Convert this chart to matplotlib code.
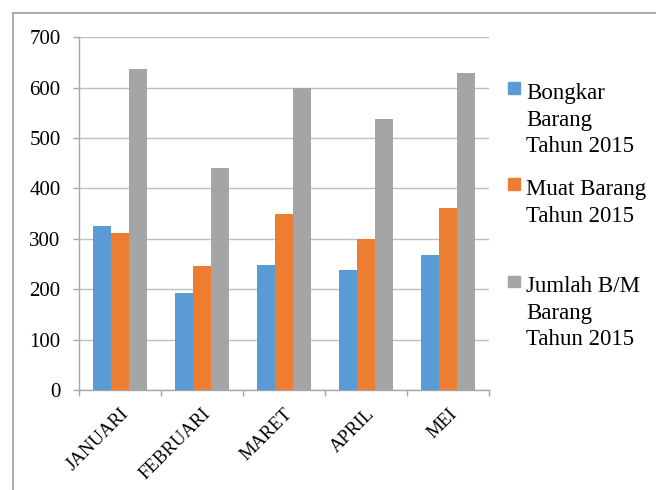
import matplotlib

matplotlib.use("Agg")
import matplotlib.pyplot as plt
import numpy as np
from matplotlib.lines import Line2D

plt.rcParams.update({"font.family": ["Liberation Serif", "DejaVu Serif"]})

months = ["JANUARI", "FEBRUARI", "MARET", "APRIL", "MEI"]
bongkar = [326, 192, 249, 239, 267]
muat = [311, 247, 349, 300, 362]
jumlah = [637, 440, 600, 538, 630]

series_labels = [["Bongkar", "Barang", "Tahun 2015"],
                 ["Muat Barang", "Tahun 2015"],
                 ["Jumlah B/M", "Barang", "Tahun 2015"]]
colors = ["#5B9BD5", "#ED7D31", "#A5A5A5"]
y_ticks = [0, 100, 200, 300, 400, 500, 600, 700]

W, H = 656, 490
fig = plt.figure(figsize=(W / 100, H / 100), dpi=100)
ax = fig.add_axes([78.7 / W, 1 - 390 / H, (489.3 - 78.7) / W, (390 - 37.3) / H])

x = np.arange(len(months))
bw = 0.22
for j, (vals, col) in enumerate(zip([bongkar, muat, jumlah], colors)):
    ax.bar(x + (j - 1) * bw, vals, width=bw, color=col, zorder=3)

ax.set_xlim(-0.5, len(months) - 0.5)
ax.set_ylim(0, 700)
ax.set_yticks(y_ticks)
ax.set_yticklabels([str(v) for v in y_ticks], fontsize=15)
ax.yaxis.grid(True, color="#BFBFBF", lw=1.0, zorder=0)

ax.set_xticks(x)
ax.set_xticklabels(months, fontsize=13.5, rotation=45, ha="right", rotation_mode="anchor")
ax.tick_params(axis="x", length=0, pad=11)
ax.set_xticks(np.arange(len(months) + 1) - 0.5, minor=True)
ax.tick_params(axis="x", which="minor", length=4, color="#A6A6A6", width=1)
ax.tick_params(axis="y", length=4.5, color="#A6A6A6", width=1, pad=8.5)

for side in ["top", "right"]:
    ax.spines[side].set_visible(False)
for side in ["left", "bottom"]:
    ax.spines[side].set_color("#A6A6A6")
    ax.spines[side].set_linewidth(1)

# legend drawn by hand to mimic the spreadsheet layout
first_baseline = [99, 195, 292]
line_step = 26.5
for lines, col, base in zip(series_labels, colors, first_baseline):
    fig.patches.append(plt.Rectangle((508 / W, 1 - (base - 5) / H), 12 / W, 11.5 / H,
                                     transform=fig.transFigure, color=col))
    for k, line in enumerate(lines):
        fig.text(526 / W, 1 - (base + k * line_step) / H, line,
                 fontsize=16.5, va="baseline", ha="left")

# outer chart border (top and left visible)
bx, by = 13 / W, 1 - 13 / H
fig.add_artist(Line2D([bx, 1], [by, by], color="#A0A0A0", lw=1.2, transform=fig.transFigure))
fig.add_artist(Line2D([bx, bx], [0, by], color="#A0A0A0", lw=1.2, transform=fig.transFigure))

fig.savefig("out.png", dpi=100)
